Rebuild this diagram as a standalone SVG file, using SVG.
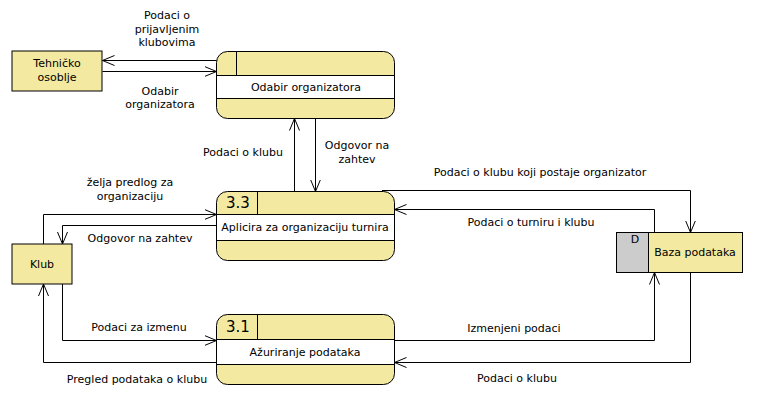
<svg xmlns="http://www.w3.org/2000/svg" width="758" height="407" viewBox="0 0 758 407">
<defs>
<marker id="arr" markerUnits="userSpaceOnUse" markerWidth="14" markerHeight="12" refX="12" refY="6" orient="auto">
<path d="M0,1 L12,6 L0,11" fill="none" stroke="#000" stroke-width="1"/>
</marker>
<style>
.box{fill:#F3E9A0;stroke:#000;stroke-width:1}
.band{fill:#fff;stroke:#000;stroke-width:1}
.ln{fill:none;stroke:#000;stroke-width:1}
.e{fill:none;stroke:#000;stroke-width:1;marker-end:url(#arr)}
text{font-family:"DejaVu Sans","Liberation Sans",sans-serif;font-size:11px;fill:#000;text-anchor:middle}
.num{font-size:15px;text-anchor:start}
</style>
</defs>
<rect width="758" height="407" fill="#fff"/>

<g id="tehnicko">
<rect class="box" x="12" y="51" width="90" height="40"/>
<text x="57" y="67">Tehničko</text>
<text x="57" y="81">osoblje</text>
</g>

<g id="klub">
<rect class="box" x="12" y="244" width="60" height="40"/>
<text x="42" y="268">Klub</text>
</g>

<g id="odabir">
<rect class="box" x="216.5" y="51.5" width="178" height="67" rx="11" ry="11"/>
<rect class="band" x="216.5" y="75.5" width="178" height="23"/>
<line class="ln" x1="236.5" y1="51.5" x2="236.5" y2="75.5"/>
<text x="306" y="91">Odabir organizatora</text>
</g>

<g id="p33">
<rect class="box" x="216.5" y="191.5" width="178" height="69" rx="11" ry="11"/>
<rect class="band" x="216.5" y="214.5" width="178" height="26"/>
<line class="ln" x1="257.5" y1="191.5" x2="257.5" y2="214.5"/>
<text class="num" x="226" y="208">3.3</text>
<text x="305" y="231">Aplicira za organizaciju turnira</text>
</g>

<g id="p31">
<rect class="box" x="216.5" y="314.5" width="178" height="70" rx="11" ry="11"/>
<rect class="band" x="216.5" y="339.5" width="178" height="25"/>
<line class="ln" x1="257.5" y1="314.5" x2="257.5" y2="339.5"/>
<text class="num" x="226" y="332">3.1</text>
<text x="305" y="356">Ažuriranje podataka</text>
</g>

<g id="baza">
<rect x="616.5" y="232.5" width="32" height="40" fill="#CCCCCC" stroke="#000"/>
<rect class="box" x="648.5" y="232.5" width="94" height="40"/>
<text x="635" y="243">D</text>
<text x="695" y="256">Baza podataka</text>
</g>

<g id="connectors">
<path class="e" d="M216.5,60.5 H102.5"/>
<path class="e" d="M102.5,71.5 H216.5"/>
<path class="e" d="M294.5,191.5 V118.5"/>
<path class="e" d="M315.5,118.5 V191.5"/>
<path class="e" d="M382,190.5 H690.5 V232.5"/>
<path class="e" d="M654.5,232.5 V209.5 H394.5"/>
<path class="e" d="M43.5,244 V214.5 H216.5"/>
<path class="e" d="M216.5,225.5 H62.5 V244"/>
<path class="e" d="M62.5,284 V340.5 H216.5"/>
<path class="e" d="M216.5,362.5 H43.5 V284"/>
<path class="e" d="M394.5,340.5 H654.5 V272.5"/>
<path class="e" d="M690.5,272.5 V362.5 H394.5"/>
</g>

<g id="labels">
<text x="167" y="19">Podaci o</text>
<text x="167" y="33">prijavljenim</text>
<text x="167" y="46">klubovima</text>
<text x="160" y="95">Odabir</text>
<text x="160" y="108">organizatora</text>
<text x="243" y="156">Podaci o klubu</text>
<text x="357" y="149">Odgovor na</text>
<text x="357" y="163">zahtev</text>
<text x="540" y="176">Podaci o klubu koji postaje organizator</text>
<text x="531" y="226">Podaci o turniru i klubu</text>
<text x="130" y="186">želja predlog za</text>
<text x="130" y="200">organizaciju</text>
<text x="140" y="242">Odgovor na zahtev</text>
<text x="139" y="331">Podaci za izmenu</text>
<text x="137" y="383">Pregled podataka o klubu</text>
<text x="514" y="332">Izmenjeni podaci</text>
<text x="517" y="382">Podaci o klubu</text>
</g>
</svg>
